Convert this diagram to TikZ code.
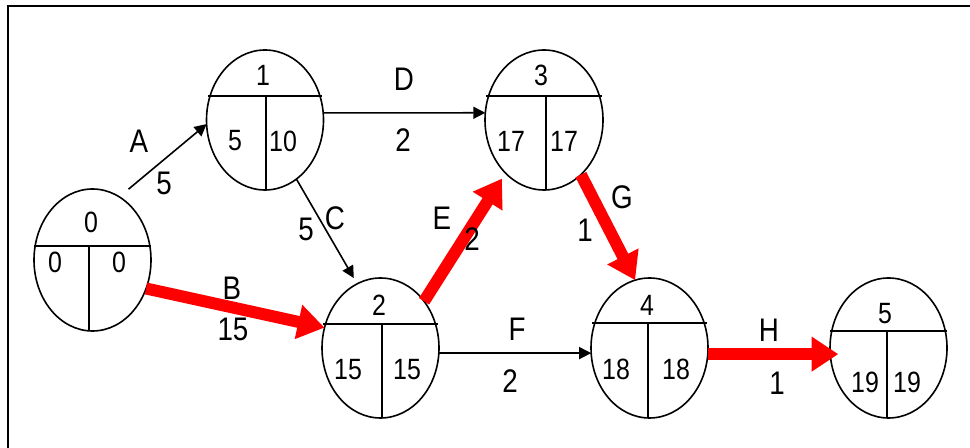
\documentclass[tikz,border=0pt]{standalone}
\usepackage{fontspec}
\setmainfont{Liberation Sans}[FakeStretch=0.85]
\usetikzlibrary{shapes.geometric,arrows.meta}
\begin{document}
\begin{tikzpicture}[x=0.75pt,y=-0.75pt,
  evt/.style={ellipse,draw,line width=1.2pt,inner sep=0pt,outer sep=0pt,minimum width=87.75pt,minimum height=105pt},
  div/.style={line width=1.2pt},
  num/.style={inner sep=0pt,font=\fontsize{22pt}{22pt}\selectfont},
  lab/.style={inner sep=0pt,font=\fontsize{24.5pt}{24.5pt}\selectfont},
  blkarrow/.style={line width=1.2pt,-{Triangle[length=9pt,width=9pt]}},
  crit/.style={red,line width=9pt,-{Triangle[length=20pt,width=25pt]}}
]
\useasboundingbox (0,0) rectangle (970,448);
% frame
\draw[line width=1.6pt] (8,448) -- (8,6) -- (970,6);

% event nodes
\node[evt,minimum height=106.5pt] (n0) at (92.5,260) {};
\node[evt] (n1) at (265,120) {};
\node[evt,minimum width=88.5pt] (n3) at (544,120) {};
\node[evt] (n2) at (380.5,348) {};
\node[evt] (n4) at (649.5,348) {};
\node[evt] (n5) at (888.5,348) {};

% dividers
\draw[div] (34,246) -- (151,246) (89,246) -- (89,331);
\draw[div] (208,96) -- (322,96) (266,96) -- (266,190);
\draw[div] (486,96) -- (602,96) (546,96) -- (546,190);
\draw[div] (323,324) -- (438,324) (382,324) -- (382,418);
\draw[div] (592,323) -- (707,323) (648,323) -- (648,418);
\draw[div] (830,331) -- (947,331) (887,331) -- (887,418);

% numbers inside events
\node[num] (t0) at (91,222) {0};
\node[num] (e0) at (55,262) {0};
\node[num] (l0) at (119,262) {0};
\node[num] (t1) at (263,75) {1};
\node[num] (e1) at (235,141) {5};
\node[num] (l1) at (283,141) {10};
\node[num] (t3) at (541,75) {3};
\node[num] (e3) at (511,141) {17};
\node[num] (l3) at (564,141) {17};
\node[num] (t2) at (379,305) {2};
\node[num] (e2) at (348,370) {15};
\node[num] (l2) at (407,370) {15};
\node[num] (t4) at (647,305) {4};
\node[num] (e4) at (616,369) {18};
\node[num] (l4) at (676,369) {18};
\node[num] (t5) at (885,314) {5};
\node[num] (e5) at (865,382) {19};
\node[num] (l5) at (907,382) {19};

% activities
\draw[blkarrow,shorten <=9pt] (n0.67) -- (n1.184);
\draw[blkarrow] (n1.7) -- (n3.173);
\draw[blkarrow,shorten >=5pt] (n1.-62) -- (n2.110);
\draw[blkarrow] (n2.-5) -- (n4.185);
\draw[crit] (n0.-28) -- (n2.160);
\draw[crit,shorten >=5pt] (n2.47) -- (n3.234);
\draw[crit] (n3.-56) -- (n4.102);
\draw[crit,shorten >=-6pt] (n4.-6) -- (n5.186);

% activity labels
\node[lab] (aA) at (139,141) {A};
\node[lab] (dA) at (164,183) {5};
\node[lab] (aD) at (404,79) {D};
\node[lab] (dD) at (403,140) {2};
\node[lab] (aC) at (335,218) {C};
\node[lab] (dC) at (306,229) {5};
\node[lab] (aB) at (232,288) {B};
\node[lab] (dB) at (233,329) {15};
\node[lab] (aE) at (442,218) {E};
\node[lab] (dE) at (472,239) {2};
\node[lab] (aG) at (622,197) {G};
\node[lab] (dG) at (585,230) {1};
\node[lab] (aF) at (517,329) {F};
\node[lab] (dF) at (510,381) {2};
\node[lab] (aH) at (769,330) {H};
\node[lab] (dH) at (777,383) {1};
\end{tikzpicture}
\end{document}
